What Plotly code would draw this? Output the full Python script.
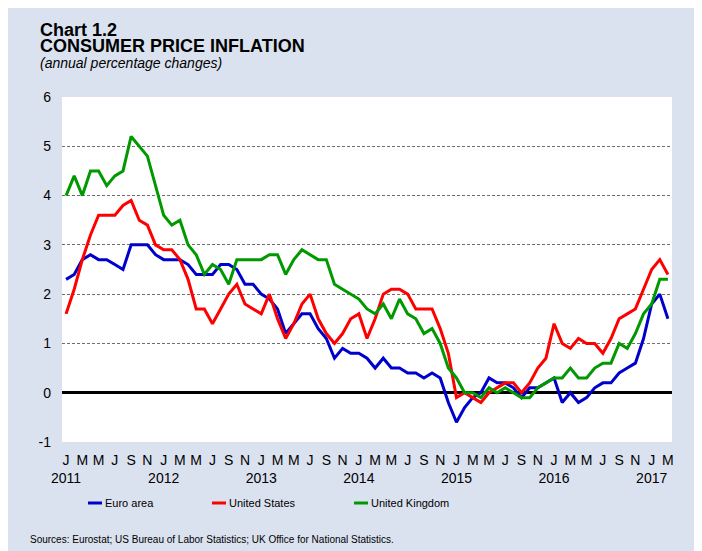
import plotly.graph_objects as go

# ---------------- data (annual % changes, monthly Jan 2011 - Mar 2017) ----------------
euro_area = [2.3, 2.4, 2.7, 2.8, 2.7, 2.7, 2.6, 2.5, 3.0, 3.0, 3.0, 2.8,
             2.7, 2.7, 2.7, 2.6, 2.4, 2.4, 2.4, 2.6, 2.6, 2.5, 2.2, 2.2,
             2.0, 1.9, 1.7, 1.2, 1.4, 1.6, 1.6, 1.3, 1.1, 0.7, 0.9, 0.8,
             0.8, 0.7, 0.5, 0.7, 0.5, 0.5, 0.4, 0.4, 0.3, 0.4, 0.3, -0.2,
             -0.6, -0.3, -0.1, 0.0, 0.3, 0.2, 0.2, 0.1, -0.1, 0.1, 0.1, 0.2,
             0.3, -0.2, 0.0, -0.2, -0.1, 0.1, 0.2, 0.2, 0.4, 0.5, 0.6, 1.1,
             1.8, 2.0, 1.5]
united_states = [1.6, 2.1, 2.7, 3.2, 3.6, 3.6, 3.6, 3.8, 3.9, 3.5, 3.4, 3.0,
                 2.9, 2.9, 2.7, 2.3, 1.7, 1.7, 1.4, 1.7, 2.0, 2.2, 1.8, 1.7,
                 1.6, 2.0, 1.5, 1.1, 1.4, 1.8, 2.0, 1.5, 1.2, 1.0, 1.2, 1.5,
                 1.6, 1.1, 1.5, 2.0, 2.1, 2.1, 2.0, 1.7, 1.7, 1.7, 1.3, 0.8,
                 -0.1, 0.0, -0.1, -0.2, 0.0, 0.1, 0.2, 0.2, 0.0, 0.2, 0.5, 0.7,
                 1.4, 1.0, 0.9, 1.1, 1.0, 1.0, 0.8, 1.1, 1.5, 1.6, 1.7, 2.1,
                 2.5, 2.7, 2.4]
united_kingdom = [4.0, 4.4, 4.0, 4.5, 4.5, 4.2, 4.4, 4.5, 5.2, 5.0, 4.8, 4.2,
                  3.6, 3.4, 3.5, 3.0, 2.8, 2.4, 2.6, 2.5, 2.2, 2.7, 2.7, 2.7,
                  2.7, 2.8, 2.8, 2.4, 2.7, 2.9, 2.8, 2.7, 2.7, 2.2, 2.1, 2.0,
                  1.9, 1.7, 1.6, 1.8, 1.5, 1.9, 1.6, 1.5, 1.2, 1.3, 1.0, 0.5,
                  0.3, 0.0, 0.0, -0.1, 0.1, 0.0, 0.1, 0.0, -0.1, -0.1, 0.1, 0.2,
                  0.3, 0.3, 0.5, 0.3, 0.3, 0.5, 0.6, 0.6, 1.0, 0.9, 1.2, 1.6,
                  1.8, 2.3, 2.3]

years = ["2011", "2012", "2013", "2014", "2015", "2016", "2017"]
month_letters = ["J", "F", "M", "A", "M", "J", "J", "A", "S", "O", "N", "D"]
y_ticks = [-1, 0, 1, 2, 3, 4, 5, 6]
series_names = ["Euro area", "United States", "United Kingdom"]
series_colors = ["#0000CC", "#FF0000", "#009900"]

# monthly categories
months = []
for y in years:
    for m in range(12):
        months.append(f"{y}-{m + 1:02d}")
months = months[:len(euro_area)]

# tick labels: every second month, year under January
tickvals, ticktext = [], []
for i, cat in enumerate(months):
    if i % 2 == 0:
        m = int(cat[5:]) - 1
        lab = month_letters[m]
        if m == 0:
            lab += "<br>" + cat[:4]
        tickvals.append(cat)
        ticktext.append(lab)

BG = "#dbe2ef"
FONT = "Liberation Sans, Arial, sans-serif"

fig = go.Figure()
for name, vals, col in zip(series_names, [euro_area, united_states, united_kingdom], series_colors):
    fig.add_trace(go.Scatter(x=months, y=vals, mode="lines", name=name,
                             line=dict(color=col, width=3), showlegend=False))

fig.update_layout(
    width=702, height=551,
    margin=dict(l=54, r=38, t=89, b=117),
    paper_bgcolor=BG, plot_bgcolor="white",
    font=dict(family=FONT, size=14, color="#000000"),
    showlegend=False,
)
fig.update_xaxes(type="category", range=[-0.5, len(months) - 0.5],
                 tickmode="array", tickvals=tickvals, ticktext=ticktext,
                 showgrid=False, showline=False, zeroline=False, ticks="",
                 tickangle=0, tickfont=dict(size=14), ticklabelstandoff=8)
fig.update_yaxes(range=[-1, 6], tickmode="array", tickvals=y_ticks,
                 ticktext=[str(v) for v in y_ticks], showgrid=True,
                 gridcolor="#6f6f6f", gridwidth=1, griddash="3px,2px",
                 zeroline=True, zerolinecolor="#000000", zerolinewidth=2.5,
                 showline=False, ticks="", ticklabelstandoff=10,
                 tickfont=dict(size=14))

# titles
fig.add_annotation(text="<b>Chart 1.2</b>", xref="paper", yref="paper", x=-0.0392, y=1.1942,
                   xanchor="left", yanchor="middle", showarrow=False, font=dict(size=18))
fig.add_annotation(text="<b>CONSUMER PRICE INFLATION</b>", xref="paper", yref="paper", x=-0.0392,
                   y=1.1478, xanchor="left", yanchor="middle", showarrow=False, font=dict(size=18))
fig.add_annotation(text="<i>(annual percentage changes)</i>", xref="paper", yref="paper", x=-0.0392,
                   y=1.0986, xanchor="left", yanchor="middle", showarrow=False, font=dict(size=14))

# legend (line sample + label)
leg_x = [0.0426, 0.2459, 0.4787]
leg_y = -0.1768
for name, col, x0 in zip(series_names, series_colors, leg_x):
    fig.add_shape(type="line", xref="paper", yref="paper", x0=x0, x1=x0 + 0.023, y0=leg_y, y1=leg_y,
                  line=dict(color=col, width=3))
    fig.add_annotation(text=name, xref="paper", yref="paper", x=x0 + 0.0246, y=leg_y,
                       xanchor="left", yanchor="middle", showarrow=False,
                       font=dict(size=11))

fig.add_annotation(text="Sources: Eurostat; US Bureau of Labor Statistics; UK Office for National Statistics.",
                   xref="paper", yref="paper", x=-0.0557, y=-0.284, xanchor="left", yanchor="middle",
                   showarrow=False, font=dict(size=10))

fig.write_html("out.html")
